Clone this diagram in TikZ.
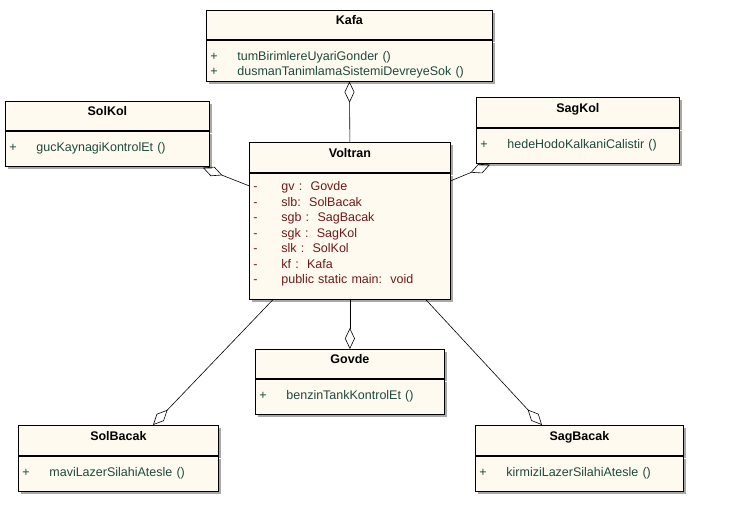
\documentclass[tikz,border=0pt]{standalone}
\usepackage{fontspec}
\setmainfont{Liberation Sans}
\usetikzlibrary{arrows.meta, positioning, shadows}
\definecolor{classfill}{HTML}{FFFAEF}
\definecolor{opcolor}{HTML}{1E4A40}
\definecolor{attrcolor}{HTML}{6E1A1A}
\definecolor{shadowgray}{HTML}{A8A8A8}
\newcommand{\op}[1]{\makebox[27pt][l]{+}#1}
\newcommand{\attr}[1]{\makebox[28pt][l]{-}#1}

\begin{document}
\begin{tikzpicture}[x=1pt, y=-1pt,
    classname/.style={rectangle, draw, line width=0.8pt, fill=classfill,
                anchor=north west, inner sep=0pt, minimum width=#1,
                font=\fontsize{12.5}{15.5}\selectfont\bfseries,
                text height=5pt, text depth=5pt,
                drop shadow={shadow xshift=3pt, shadow yshift=-3pt,
                             fill=shadowgray, opacity=1}},
    classbody/.style={rectangle, draw, line width=0.8pt, fill=classfill,
                align=left, inner xsep=4pt, inner ysep=0pt, text width=#1,
                text=opcolor, font=\fontsize{12.5}{15.5}\selectfont,
                drop shadow={shadow xshift=3pt, shadow yshift=-3pt,
                             fill=shadowgray, opacity=1}},
    aggr/.style={-{Diamond[open, length=21pt, width=10pt]}, line width=0.6pt}
]
\useasboundingbox[fill=white] (0,0) rectangle (735,530);

% Kafa
\node[classname=286pt, minimum height=29pt] (kafa) at (206,10) {Kafa};
\node[classbody=278pt, minimum height=41pt, below=0pt of kafa] (kafaOps)
{\rule{0pt}{17pt}\op{tumBirimlereUyariGonder ()}\\
 \op{dusmanTanimlamaSistemiDevreyeSok ()}};

% SolKol
\node[classname=204pt, minimum height=29pt] (solkol) at (5,101) {SolKol};
\node[classbody=196pt, minimum height=35pt, below=0pt of solkol] (solkolOps)
{\op{gucKaynagiKontrolEt ()}};

% SagKol
\node[classname=203pt, minimum height=30pt] (sagkol) at (476,97) {SagKol};
\node[classbody=195pt, minimum height=35pt, below=0pt of sagkol] (sagkolOps)
{\op{hedeHodoKalkaniCalistir ()}};

% Voltran
\node[classname=201pt, minimum height=30pt] (voltran) at (249,142) {Voltran};
\node[classbody=193pt, minimum height=126pt, text=attrcolor,
      below=0pt of voltran] (voltranAttr)
{\attr{gv :\ \ Govde}\\
 \attr{slb:\ \ SolBacak}\\
 \attr{sgb :\ \ SagBacak}\\
 \attr{sgk :\ \ SagKol}\\
 \attr{slk :\ \ SolKol}\\
 \attr{kf :\ \ Kafa}\\
 \attr{public static main:\ \ void}\\[-9pt]\mbox{}};

% Govde
\node[classname=189pt, minimum height=29pt] (govde) at (255,349) {Govde};
\node[classbody=181pt, minimum height=35pt, below=0pt of govde] (govdeOps)
{\op{benzinTankKontrolEt ()}};

% SolBacak
\node[classname=200pt, minimum height=30pt] (solbacak) at (18,425) {SolBacak};
\node[classbody=192pt, minimum height=35pt, below=0pt of solbacak] (solbacakOps)
{\op{maviLazerSilahiAtesle ()}};

% SagBacak
\node[classname=208pt, minimum height=30pt] (sagbacak) at (475,425) {SagBacak};
\node[classbody=200pt, minimum height=35pt, below=0pt of sagbacak] (sagbacakOps)
{\op{kirmiziLazerSilahiAtesle ()}};

% Aggregations
\draw[aggr] (voltran.north) -- (kafaOps.south);
\draw[aggr] ([yshift=-13pt]voltranAttr.north west)
    -- ([xshift=-7pt, yshift=-1pt]solkolOps.south east);
\draw[aggr] ([yshift=-8pt]voltranAttr.north east)
    -- ([xshift=14pt, yshift=-1pt]sagkolOps.south west);
\draw[aggr] (voltranAttr.south) -- (govde.north);
\draw[aggr] ([xshift=24pt]voltranAttr.south west)
    -- ([xshift=135pt]solbacak.north west);
\draw[aggr] ([xshift=-25pt]voltranAttr.south east)
    -- ([xshift=67pt]sagbacak.north west);

\end{tikzpicture}
\end{document}
